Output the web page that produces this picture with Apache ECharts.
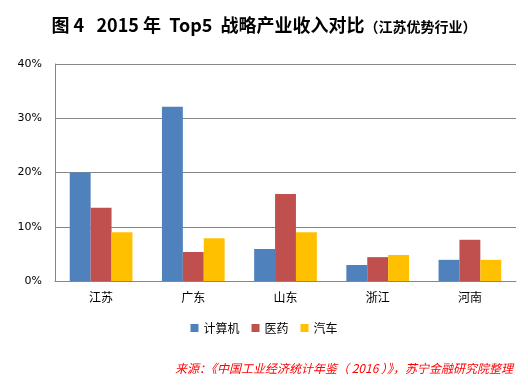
<!DOCTYPE html>
<html><head><meta charset="utf-8">
<script src="https://cdn.jsdelivr.net/npm/echarts@6/dist/echarts.min.js"></script>
<style>html,body{margin:0;padding:0;background:#fff}#c{width:528px;height:391px}</style>
</head><body><div id="c"></div>
<script>
const categories = ['江苏','广东','山东','浙江','河南'];
const computer = [20.0, 32.1, 5.9, 2.95, 3.9];
const pharma = [13.5, 5.35, 16.05, 4.4, 7.6];
const auto = [9.0, 7.9, 9.0, 4.8, 3.9];
const seriesNames = ['计算机','医药','汽车'];
const chart = echarts.init(document.getElementById('c'));
const font = '"Noto Sans CJK SC", sans-serif';
chart.setOption({
  animation:false,
  backgroundColor:'#fff',
  title:{
    text:'{a|图 4   2015 年  Top5  战略产业收入对比}{b|（江苏优势行业）}',
    left:'center', top:11,
    textStyle:{rich:{
      a:{fontSize:18,fontWeight:'bold',color:'#000',fontFamily:font},
      b:{fontSize:14,fontWeight:'bold',color:'#000',fontFamily:font,padding:[3,0,0,0]}
    }}
  },
  graphic:[{type:'text',right:15,top:362,style:{text:'来源：《中国工业经济统计年鉴（ 2016 ）》，苏宁金融研究院整理',fill:'#FF0000',font:'italic 12px "Noto Sans CJK SC", sans-serif'}}],
  legend:{
    data:seriesNames, left:'center', top:317, itemWidth:8, itemHeight:8, itemGap:12,
    icon:'rect', textStyle:{fontSize:12,color:'#000',fontFamily:font}
  },
  grid:{left:55,right:12,top:64,bottom:110},
  xAxis:{
    type:'category', data:categories,
    axisLine:{lineStyle:{color:'#868686'}}, axisTick:{show:false},
    axisLabel:{fontSize:12,color:'#000',margin:10,fontFamily:font}
  },
  yAxis:{
    type:'value', min:0, max:40, interval:10,
    axisLine:{show:true,lineStyle:{color:'#868686'}},
    splitLine:{lineStyle:{color:'#868686'}},
    axisLabel:{formatter:'{value}%',fontSize:11,color:'#000',margin:13,fontFamily:'"DejaVu Sans", sans-serif'}
  },
  series:[
    {name:seriesNames[0],type:'bar',data:computer,itemStyle:{color:'#4F81BD'},barGap:'0%',barCategoryGap:'32%'},
    {name:seriesNames[1],type:'bar',data:pharma,itemStyle:{color:'#C0504D'}},
    {name:seriesNames[2],type:'bar',data:auto,itemStyle:{color:'#FFC000'}}
  ]
});
</script></body></html>
